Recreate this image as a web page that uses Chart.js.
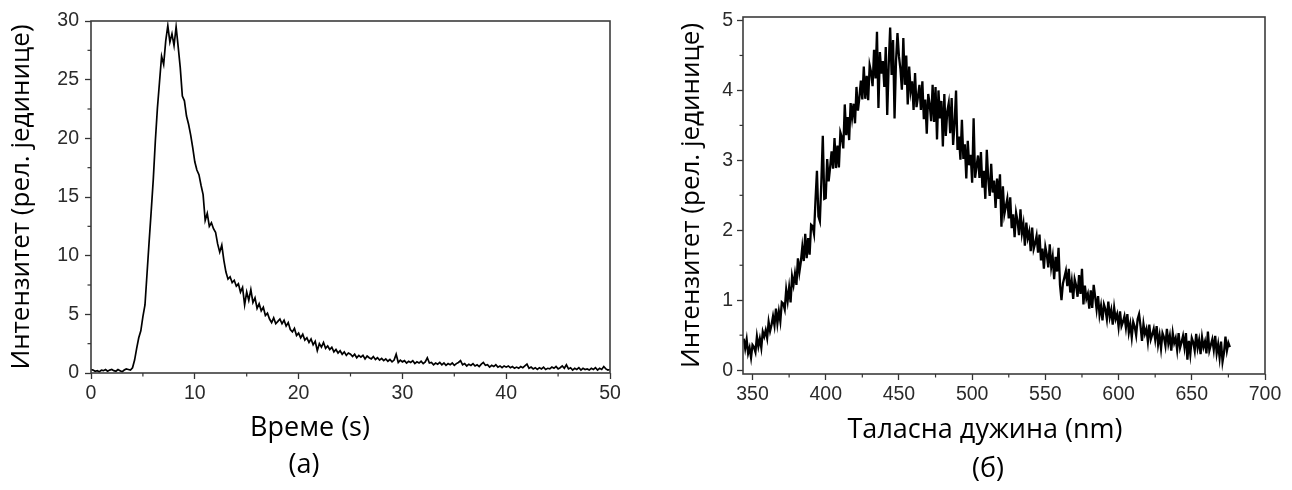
<!DOCTYPE html>
<html>
<head>
<meta charset="utf-8">
<script src="https://cdn.jsdelivr.net/npm/chart.js@4.4.1/dist/chart.umd.min.js"></script>
<style>
  html, body { margin: 0; background: #fff; }
  #wrap { position: relative; width: 1292px; height: 490px; }
  #chartA { position: absolute; left: 0; top: 0; }
  #chartB { position: absolute; left: 650px; top: 0; }
</style>
</head>
<body>
<div id="wrap">
  <canvas id="chartA" width="640" height="490"></canvas>
  <canvas id="chartB" width="642" height="490"></canvas>
</div>
<script>
// (а) кинетика: интензитет у функцији времена, корак 0.2 s
var timeStart = 0, timeStep = 0.2;
var intensityA = [
  0.3,0.25,0.15,0.2,0.1,0.25,0.2,0.3,0.15,0.25,0.3,0.2,0.15,0.3,0.2,0.1,0.25,0.35,0.3,0.25,
  0.45,1.1,2.1,3.0,3.6,4.8,5.8,8.5,11.2,13.8,16.5,19.8,22.6,24.8,27.0,26.3,28.3,29.6,28.2,28.9,
  27.9,29.5,27.8,26.0,23.6,23.2,21.9,21.2,20.3,19.2,18.0,17.3,16.9,16.0,15.2,13.0,13.6,12.5,12.8,12.3,
  12.0,11.0,10.3,10.9,9.6,8.6,8.0,8.2,7.7,7.9,7.4,7.6,6.9,7.3,5.8,6.9,6.2,7.1,6.0,6.4,
  5.5,5.9,5.3,5.6,4.9,5.1,4.6,4.3,4.7,4.2,4.4,4.6,4.2,4.5,4.0,4.3,3.7,3.5,3.8,3.2,
  3.4,3.0,3.3,2.8,3.0,2.6,2.9,2.4,2.7,1.9,2.5,2.2,2.6,2.1,2.3,2.0,2.2,1.8,2.0,1.7,
  1.9,1.6,1.8,1.5,1.7,1.6,1.4,1.6,1.3,1.5,1.35,1.5,1.2,1.45,1.3,1.2,1.4,1.15,1.3,1.1,
  1.25,1.05,1.2,1.0,1.15,0.95,1.1,1.6,0.9,1.1,0.95,1.05,0.85,1.0,0.9,1.05,0.8,0.95,0.85,1.0,
  0.8,0.95,1.3,0.85,0.9,0.7,0.85,0.75,0.9,0.7,0.85,0.65,0.8,0.7,0.85,0.65,0.8,0.9,1.05,0.7,
  0.8,0.6,0.75,0.65,0.8,0.6,0.7,0.55,0.75,0.9,0.65,0.7,0.5,0.65,0.55,0.7,0.5,0.6,0.45,0.6,
  0.5,0.6,0.45,0.55,0.4,0.5,0.4,0.55,0.45,0.6,0.75,0.4,0.5,0.35,0.45,0.3,0.45,0.35,0.5,0.3,
  0.4,0.35,0.5,0.4,0.55,0.35,0.45,0.6,0.4,0.7,0.35,0.45,0.25,0.4,0.3,0.45,0.25,0.4,0.3,0.35,
  0.25,0.4,0.3,0.45,0.25,0.4,0.3,0.55,0.35,0.25,0.3
];
var xTicksA = [0, 10, 20, 30, 40, 50];
var xMinorA = [5, 15, 25, 35, 45];
var yTicksA = [0, 5, 10, 15, 20, 25, 30];
var yMinorA = [2.5, 7.5, 12.5, 17.5, 22.5, 27.5];

// (б) спектар: интензитет у функцији таласне дужине, корак 1 nm
var waveStart = 344, waveStep = 1;
var intensityB = [
  .45,.31,.44,.24,.32,.18,.36,.33,.26,.48,
  .34,.45,.32,.55,.48,.57,.46,.69,.56,.65,
  .77,.64,.88,.67,.84,.70,.97,.95,.87,1.15,
  .99,1.18,.97,1.34,1.22,1.38,1.22,1.60,1.40,1.55,
  1.76,1.56,1.95,1.60,1.89,1.65,2.08,2.06,1.95,2.43,
  2.85,2.2,2.13,2.69,3.35,2.45,2.46,3.02,2.70,2.90,
  3.13,2.88,3.32,2.89,3.21,2.90,3.40,3.33,3.17,3.8,
  3.36,3.62,3.29,3.82,3.61,3.81,3.53,4.05,3.71,3.90,
  4.14,3.87,4.34,3.88,4.21,3.86,4.36,4.26,4.06,4.58,
  4.17,4.84,3.75,4.55,4.24,4.42,4.05,4.62,3.65,4.36,
  4.9,4.22,4.72,3.6,4.42,4.82,4.49,4.31,4.01,4.75,
  4.08,4.5,3.8,4.34,3.99,4.13,3.72,4.25,3.76,3.91,
  4.08,3.72,4.13,3.59,3.87,3.38,3.95,3.80,3.56,4.08,
  3.55,4.05,3.3,4.0,3.6,3.85,3.2,3.95,3.35,3.7,
  3.82,3.39,3.89,3.22,3.53,4.0,3.15,3.34,3.01,3.58,
  3.02,3.23,2.74,3.28,2.93,3.08,2.68,3.6,2.75,2.91,
  3.07,2.75,3.12,2.61,2.85,2.45,3.15,2.73,2.49,2.95,
  2.54,2.71,2.32,2.74,2.45,2.8,2.05,2.63,2.23,2.34,
  2.45,2.17,2.47,2.03,2.23,1.9,2.25,2.13,1.93,2.3,
  1.96,2.09,1.78,2.11,1.89,1.98,1.70,2.04,1.73,1.81,
  1.92,1.68,1.94,1.57,1.74,1.45,1.76,1.65,1.47,1.8,
  1.48,1.62,1.3,1.62,1.41,1.75,1.22,1.0,1.24,1.33,
  1.42,1.2,1.45,1.11,1.27,1.02,1.3,1.21,1.05,1.36,
  1.09,1.45,0.94,1.21,1.02,1.09,0.88,1.14,0.89,1.22,
  1.05,.87,1.06,.79,.92,.71,.94,.87,.73,.98,
  .76,.86,.65,.89,.73,.8,.62,.84,.63,.69,
  .77,.61,.8,.54,.66,.47,.69,.62,.5,.73,
  .8,.63,.42,.66,.52,.59,.41,.65,.44,.51,
  .59,.44,.63,.37,.5,.31,.53,.47,.35,.59,
  .38,.49,.28,.53,.39,.46,.29,.53,.32,.4,
  .49,.33,.53,.15,.42,.23,.46,.4,.28,.52,
  .32,.43,.23,.47,.33,.41,.24,.55,.28,.36,
  .44,.29,.49,.24,.37,.18,.41,.12,.25,.48,.28,.39,.33
];
var xTicksB = [350, 400, 450, 500, 550, 600, 650, 700];
var xMinorB = [375, 425, 475, 525, 575, 625, 675];
var yTicksB = [0, 1, 2, 3, 4, 5];
var yMinorB = [0.5, 1.5, 2.5, 3.5, 4.5];

var Y_TITLE = 'Интензитет (рел. јединице)';
var TICK_FONT = { family: '"Liberation Sans", Arial, sans-serif', size: 19.5 };
var TITLE_FONT = { family: '"Open Sans", "Noto Sans", sans-serif', size: 26 };

function toPoints(start, step, values) {
  return values.map((v, i) => ({ x: start + i * step, y: v }));
}

// оквир око површине графика, споредне цртице и натписи испод оса
var framePlugin = {
  id: 'frame',
  afterDraw(chart, args, opts) {
    const ctx = chart.ctx, a = chart.chartArea;
    const sx = chart.scales.x, sy = chart.scales.y;
    ctx.save();
    ctx.strokeStyle = '#3c3c3c';
    ctx.lineWidth = 1.6;
    ctx.strokeRect(a.left, a.top, a.right - a.left, a.bottom - a.top);
    ctx.lineWidth = 1.2;
    ctx.strokeStyle = '#333';
    opts.minorX.forEach(v => {
      const px = sx.getPixelForValue(v);
      ctx.beginPath(); ctx.moveTo(px, a.bottom); ctx.lineTo(px, a.bottom + 3.5); ctx.stroke();
    });
    opts.minorY.forEach(v => {
      const py = sy.getPixelForValue(v);
      ctx.beginPath(); ctx.moveTo(a.left, py); ctx.lineTo(a.left - 3.5, py); ctx.stroke();
    });
    ctx.fillStyle = '#000';
    ctx.font = '27px "Open Sans", "Noto Sans", sans-serif';
    ctx.textAlign = 'center';
    ctx.textBaseline = 'middle';
    opts.captions.forEach(c => ctx.fillText(c.text, c.x, c.y));
    ctx.restore();
  }
};

function makeChart(id, cfg) {
  return new Chart(document.getElementById(id), {
    type: 'line',
    data: {
      datasets: [{
        data: cfg.points,
        borderColor: '#000',
        borderWidth: cfg.lineWidth,
        pointRadius: 0,
        tension: 0,
        fill: false
      }]
    },
    plugins: [framePlugin],
    options: {
      responsive: false,
      animation: false,
      devicePixelRatio: 1,
      layout: { padding: { left: 0, right: cfg.padRight, top: cfg.padTop, bottom: 0 } },
      plugins: {
        legend: { display: false },
        tooltip: { enabled: false },
        frame: { minorX: cfg.minorX, minorY: cfg.minorY, captions: cfg.captions }
      },
      scales: {
        x: {
          type: 'linear',
          min: cfg.xMin, max: cfg.xMax,
          afterBuildTicks: s => { s.ticks = cfg.xTicks.map(v => ({ value: v })); },
          afterFit: s => { s.height = cfg.xHeight; },
          border: { display: false },
          grid: { drawOnChartArea: false, drawTicks: true, tickLength: 6, tickColor: '#333', tickWidth: 1.3 },
          ticks: { autoSkip: false, maxRotation: 0, padding: 3, color: '#2a2a2a', font: TICK_FONT }
        },
        y: {
          type: 'linear',
          min: cfg.yMin, max: cfg.yMax,
          afterBuildTicks: s => { s.ticks = cfg.yTicks.map(v => ({ value: v })); },
          afterFit: s => { s.width = cfg.yWidth; },
          border: { display: false },
          grid: { drawOnChartArea: false, drawTicks: true, tickLength: 6, tickColor: '#333', tickWidth: 1.3 },
          ticks: { autoSkip: false, padding: cfg.yTickPad, color: '#2a2a2a', font: TICK_FONT },
          title: { display: true, text: Y_TITLE, color: '#000', font: TITLE_FONT, padding: { top: cfg.yTitlePad, bottom: 0 } }
        }
      }
    }
  });
}

makeChart('chartA', {
  points: toPoints(timeStart, timeStep, intensityA),
  lineWidth: 1.7,
  xMin: 0, xMax: 50, yMin: 0, yMax: 30,
  xTicks: xTicksA, yTicks: yTicksA, minorX: xMinorA, minorY: yMinorA,
  padRight: 30, padTop: 21, xHeight: 117, yWidth: 91, yTickPad: 6, yTitlePad: 6,
  captions: [
    { text: 'Време (s)', x: 310, y: 428 },
    { text: '(а)', x: 304, y: 465 }
  ]
});

makeChart('chartB', {
  points: toPoints(waveStart, waveStep, intensityB),
  lineWidth: 2.3,
  xMin: 343.5, xMax: 700, yMin: -0.055, yMax: 5.05,
  xTicks: xTicksB, yTicks: yTicksB, minorX: xMinorB, minorY: yMinorB,
  padRight: 27, padTop: 17, xHeight: 116, yWidth: 93, yTickPad: 4, yTitlePad: 26,
  captions: [
    { text: 'Таласна дужина (nm)', x: 335, y: 430 },
    { text: '(б)', x: 338, y: 469 }
  ]
});
</script>
</body>
</html>
